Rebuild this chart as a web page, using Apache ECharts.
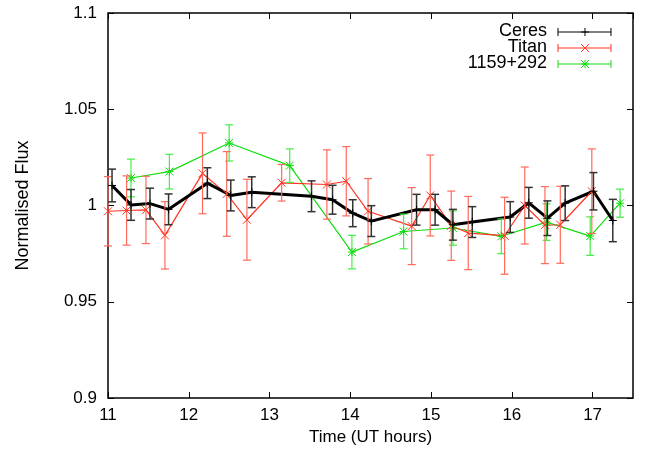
<!DOCTYPE html>
<html>
<head>
<meta charset="utf-8">
<script src="https://cdn.jsdelivr.net/npm/echarts@6/dist/echarts.min.js"></script>
<style>
  html, body { margin: 0; padding: 0; background: #fff; }
  #chart { width: 648px; height: 457px; }
</style>
</head>
<body>
<div id="chart"></div>
<script>
// Ceres
var ceresT = [11.05, 11.285, 11.52, 11.75, 12.23, 12.52, 12.78, 13.52, 13.78, 14.03, 14.26, 14.82, 15.05, 15.27, 15.51, 15.98, 16.21, 16.44, 16.66, 17.01, 17.25];
var ceresV = [1.0104, 1.0003, 1.001, 0.998, 1.0116, 1.0052, 1.0069, 1.0048, 1.003, 0.996, 0.9919, 0.9978, 0.9978, 0.990, 0.9914, 0.994, 1.0014, 0.9934, 1.0012, 1.0074, 0.9922];
var ceresE = [0.0085, 0.008, 0.008, 0.008, 0.008, 0.008, 0.008, 0.008, 0.0075, 0.007, 0.008, 0.008, 0.008, 0.008, 0.008, 0.008, 0.008, 0.009, 0.009, 0.0097, 0.011];
// Titan
var titanT = [11.0, 11.23, 11.47, 11.705, 12.17, 12.47, 12.72, 13.15, 13.71, 13.95, 14.22, 14.76, 14.99, 15.25, 15.46, 15.91, 16.16, 16.41, 16.6, 16.99];
var titanV = [0.997, 0.9974, 0.9977, 0.9845, 1.0167, 1.006, 0.9926, 1.0118, 1.0109, 1.0126, 0.997, 0.9893, 1.0052, 0.9895, 0.9857, 0.9843, 1.0, 0.9898, 0.990, 1.0074];
var titanE = [0.018, 0.018, 0.0175, 0.0175, 0.021, 0.022, 0.021, 0.0095, 0.018, 0.018, 0.017, 0.020, 0.021, 0.018, 0.019, 0.020, 0.020, 0.020, 0.020, 0.022];
// 1159+292
var qsoT = [11.285, 11.76, 12.5, 13.25, 14.02, 14.66, 15.27, 15.87, 16.43, 16.97, 17.34];
var qsoV = [1.0143, 1.0176, 1.0325, 1.0207, 0.9758, 0.9865, 0.9883, 0.984, 0.9914, 0.9841, 1.0012];
var qsoE = [0.0098, 0.009, 0.0094, 0.0087, 0.0087, 0.009, 0.0089, 0.009, 0.0095, 0.010, 0.0073];

var FONT = 'Liberation Sans';

function pts(t, v, e) {
  return t.map(function (x, i) { return [x, v[i], e[i]]; });
}

function markerShapes(kind, x, y, r, color) {
  var s = [];
  function seg(x1, y1, x2, y2) {
    s.push({ type: 'line', shape: { x1: x1, y1: y1, x2: x2, y2: y2 }, style: { stroke: color, lineWidth: 1 } });
  }
  if (kind === 'plus' || kind === 'star') { seg(x - r, y, x + r, y); seg(x, y - r, x, y + r); }
  if (kind === 'cross' || kind === 'star') { seg(x - r, y - r, x + r, y + r); seg(x - r, y + r, x + r, y - r); }
  return s;
}

function errSeries(name, data, barColor, markColor, kind, bw) {
  return {
    name: name,
    type: 'custom',
    data: data,
    z: 3,
    renderItem: function (params, api) {
      var t = api.value(0), v = api.value(1), e = api.value(2);
      var top = api.coord([t, v + e]);
      var bot = api.coord([t, v - e]);
      var c = api.coord([t, v]);
      var w = 4;
      var st = { stroke: barColor, lineWidth: bw };
      var kids = [
        { type: 'line', shape: { x1: top[0], y1: top[1], x2: bot[0], y2: bot[1] }, style: st },
        { type: 'line', shape: { x1: top[0] - w, y1: top[1], x2: top[0] + w, y2: top[1] }, style: st },
        { type: 'line', shape: { x1: bot[0] - w, y1: bot[1], x2: bot[0] + w, y2: bot[1] }, style: st }
      ];
      kids = kids.concat(markerShapes(kind, c[0], c[1], 4, markColor));
      return { type: 'group', children: kids };
    }
  };
}

function lineSeries(name, t, v, color, width) {
  return {
    name: name,
    type: 'line',
    data: t.map(function (x, i) { return [x, v[i]]; }),
    showSymbol: false,
    symbol: 'none',
    z: 2,
    lineStyle: { color: color, width: width },
    animation: false
  };
}

var legendRows = [
  { text: 'Ceres', color: '#000000', kind: 'plus', y: 32 },
  { text: 'Titan', color: '#ff3322', kind: 'cross', y: 48 },
  { text: '1159+292', color: '#11dd11', kind: 'star', y: 64 }
];
var graphics = [];
legendRows.forEach(function (r) {
  graphics.push({ type: 'text', right: 648 - 547, top: r.y - 10,
    style: { text: r.text, font: '18px ' + FONT, fill: '#000', textAlign: 'right' } });
  var st = { stroke: r.color, lineWidth: 1 };
  graphics.push({ type: 'line', shape: { x1: 558, y1: r.y, x2: 611, y2: r.y }, style: st });
  graphics.push({ type: 'line', shape: { x1: 558, y1: r.y - 4, x2: 558, y2: r.y + 4 }, style: st });
  graphics.push({ type: 'line', shape: { x1: 611, y1: r.y - 4, x2: 611, y2: r.y + 4 }, style: st });
  markerShapes(r.kind, 585, r.y, 4, r.color).forEach(function (m) { graphics.push(m); });
});

var dom = document.getElementById('chart');
var myChart = echarts.init(dom);

var option = {
  animation: false,
  backgroundColor: '#fff',
  textStyle: { fontFamily: FONT },
  grid: { left: 108, right: 15, top: 13, bottom: 59, show: true, borderColor: '#000', borderWidth: 1.5 },
  xAxis: [{
    type: 'value', min: 11, max: 17.5, interval: 1,
    name: 'Time (UT hours)', nameLocation: 'middle', nameGap: 30,
    nameTextStyle: { fontSize: 17, color: '#000', fontFamily: FONT },
    axisLine: { show: false },
    axisTick: { inside: true, length: 6, lineStyle: { color: '#000' } },
    axisLabel: { fontSize: 17, color: '#000', fontFamily: FONT, margin: 9, showMaxLabel: false,
      formatter: function (v) { return v % 1 === 0 ? String(v) : ''; } },
    splitLine: { show: false }
  }, {
    type: 'value', position: 'top', min: 11, max: 17.5, interval: 1,
    axisLine: { show: false },
    axisTick: { inside: true, length: 6, lineStyle: { color: '#000' } },
    axisLabel: { show: false },
    splitLine: { show: false }
  }],
  yAxis: [{
    type: 'value', min: 0.9, max: 1.1, interval: 0.05,
    name: 'Normalised Flux', nameLocation: 'middle', nameGap: 76,
    nameTextStyle: { fontSize: 18, color: '#000', fontFamily: FONT },
    axisLine: { show: false },
    axisTick: { inside: true, length: 6, lineStyle: { color: '#000' } },
    axisLabel: { fontSize: 17, color: '#000', fontFamily: FONT, margin: 11 },
    splitLine: { show: false }
  }, {
    type: 'value', position: 'right', min: 0.9, max: 1.1, interval: 0.05,
    axisLine: { show: false },
    axisTick: { inside: true, length: 6, lineStyle: { color: '#000' } },
    axisLabel: { show: false },
    splitLine: { show: false }
  }],
  series: [
    lineSeries('1159+292', qsoT, qsoV, '#11dd11', 1.2),
    errSeries('1159+292 err', pts(qsoT, qsoV, qsoE), '#44ee44', '#11dd11', 'star', 1.2),
    lineSeries('Titan', titanT, titanV, '#ff3322', 1.2),
    errSeries('Titan err', pts(titanT, titanV, titanE), '#ff6a5a', '#ff3322', 'cross', 1.2),
    lineSeries('Ceres', ceresT, ceresV, '#000000', 3),
    errSeries('Ceres err', pts(ceresT, ceresV, ceresE), '#333333', '#000000', 'plus', 1.5)
  ],
  graphic: graphics
};

myChart.setOption(option);
</script>
</body>
</html>
